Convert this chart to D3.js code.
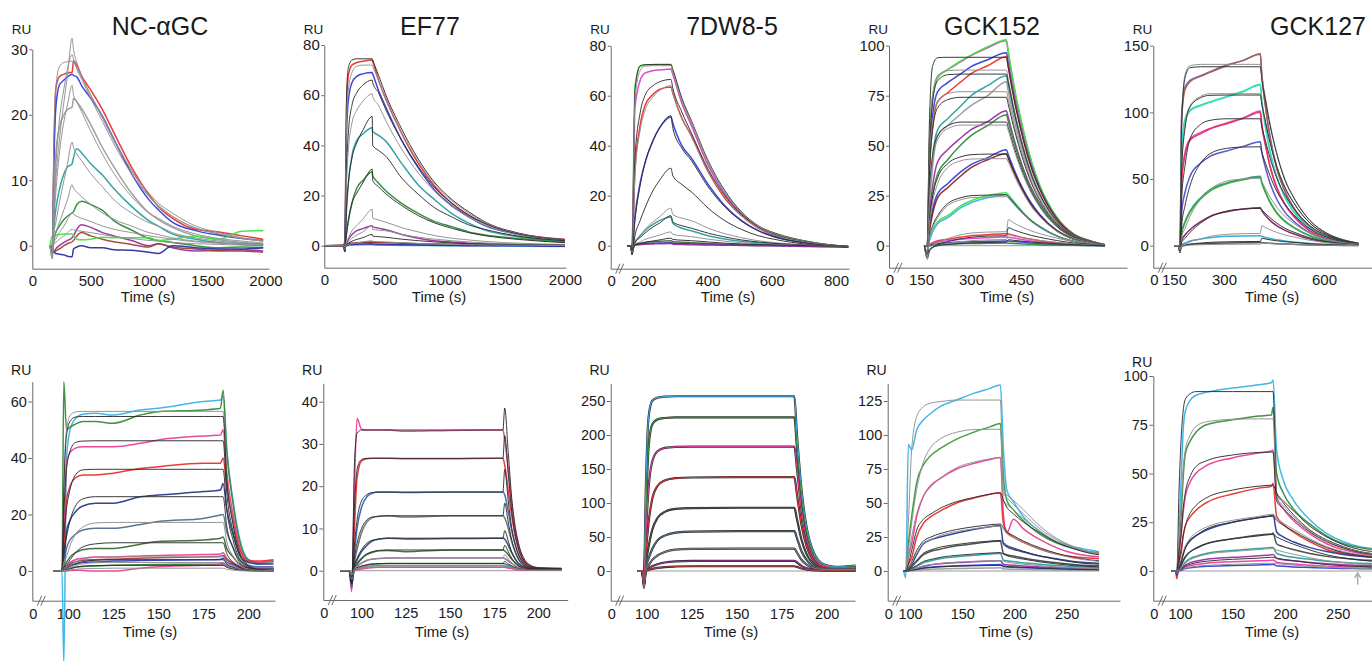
<!DOCTYPE html>
<html><head><meta charset="utf-8">
<script src="https://cdn.jsdelivr.net/npm/d3@7"></script>
<style>
body{margin:0;background:#fff}
svg{display:block}
text{font-family:"Liberation Sans",Arial,sans-serif;fill:#1a1a1a}
</style></head>
<body><svg id="c" width="1372" height="661"></svg>
<script>
// ===== DATA (RU values) =====
// Panel 1: NC-αGC (top)
const p1Times=[150,170,185,200,230,270,300,340,352,380,420,500,600,700,850,1000,1080,1200,1400,1600,1800,1980];
const p1Data=[
[0,0,15,24,25.8,26.2,26.4,26.5,28.2,27.6,26,23.8,20.8,17.2,12,7.8,6,4.2,2.5,2.1,1.5,1],
[0,-0.5,14,21,24.5,25.3,25.8,26.2,26,25.8,24.5,22.5,19.8,16.2,11,7,5.5,3.6,2.3,1.6,1.1,0.8],
[0,-1,8,14,18,20,20.8,21.2,22.5,22,21,18.5,15,12,8,5,4,2.8,1.5,0.9,0.5,0.3],
[0,0,3,5.5,8.5,11,12,12.5,13.5,14.8,14.2,12.5,10.8,8.7,6,3.8,3,1.8,1,0.5,0.2,0],
[0,0,1,2,3,4,4.5,5,5.2,6.3,6.8,6.3,5.4,3.8,2.4,1.1,0.8,0.5,0,-0.3,-0.2,-0.3],
[0,0,-1,-0.5,0,0.5,0.8,1.2,1.5,2.5,3.2,2.8,2,1.5,0.8,0,0.3,-0.3,-0.8,-0.7,-0.6,-0.8],
[0,0,-1,-0.8,-0.5,0,0.3,0.6,0.8,1.5,2,1.5,1,0.6,0.2,-0.2,0.3,-0.2,-0.5,-0.8,-0.8,-1],
[0,1.5,1.5,1.6,1.7,1.8,1.8,1.8,1.5,1.0,0.9,1.0,1.3,1.2,1.2,1.2,0.8,1.0,1.5,1.0,2.2,2.3],
[0,-1,-1,-1.2,-1.3,-1.4,-1.6,-1.7,-0.5,-0.2,0,-0.3,-0.3,-0.6,-0.7,-1,-1.2,0,-0.3,-0.5,-0.5,-0.3]];
const p1Fits=[
[0,0,5,10,16,22,26,31.7,30,28,26,23,19.5,16,11.5,8,6.5,5,3,2,1.2,0.8],
[0,0,6,12,19,24,27,29.2,28.5,27,25.5,22.5,19,15.5,11,7.5,6,4.5,2.7,1.8,1.1,0.7],
[0,0,18,24,27.3,28,28.1,28.2,28,27.2,25.8,23,19.8,16.3,11.5,7.6,6.2,4.5,2.7,1.8,1.1,0.7],
[0,-2,4,8,14,19,21.5,24.5,23,22,20.5,17.5,14,11,7.5,5,4.2,3,1.8,1.1,0.7,0.4],
[0,-2,2,3.5,6.5,10,12.5,15.8,15,14,13,11,9,7,5,3.5,3,2,1.2,0.7,0.4,0.3],
[0,-1.5,1,2,3.5,5.5,7,9.3,8.8,8.2,7.5,6.3,5,4,3,2,1.7,1.2,0.7,0.4,0.3,0.2],
[0,-1,0.5,1,2,3,4,5,4.8,4.5,4.2,3.7,3,2.5,2,1.5,1.3,1,0.6,0.4,0.3,0.2],
[0,-0.5,0.3,0.5,1,1.5,2,2.5,2.4,2.3,2.2,2,1.7,1.4,1.1,0.8,0.7,0.5,0.3,0.2,0.1,0.1]];
const p1XTicks=[0,500,1000,1500,2000], p1YTicks=[0,10,20,30];

// Panel 2: EF77 (top)
const p2Times=[0,160,170,185,200,230,270,320,398,402,450,504,643,781,920,1058,1200,1335,1612,2000];
const p2Data=[
[0,0,2,55,68,72,73,73.5,74,73.5,66,59.4,44.8,32.8,23.5,16.9,12,8.9,4.9,2.5],
[0,0,1,45,58,65,67.5,68.5,69,68.5,62,56,42,31,22,16,11.5,8,4.5,2],
[0,0,0.5,15,25,36,42,44.5,47,45.5,44,42,32.8,24.2,18.2,12.9,9,6.2,3.6,1.6],
[0,0,0.3,5,10,17,23,26,29.5,28,25,22.2,16.9,12.9,9.6,7.6,5.5,4.3,2.9,1.5],
[0,0,0,1,2.5,4.5,6,6.8,8,7.5,7,6.5,4.5,3,2,1.5,1,0.8,0.5,0.3],
[0,0.3,0,0.5,0.8,1,1.2,1.3,1.5,1.4,1.3,1.2,1,0.8,0.7,0.6,0.5,0.4,0.3,0.3],
[0,0,-0.3,0,0.2,0.3,0.3,0.3,0.4,0.3,0.2,0.2,0.1,0.1,0,0,0,0,-0.2,-0.3],
[0,-0.3,-0.5,0,0.3,0.5,0.6,0.7,0.8,0.7,0.6,0.5,0.4,0.3,0.2,0.1,0,0,0,-0.2]];
const p2Fits=[
[0,0,-2,60,71,74,74.5,74.5,74.5,74,68,61,46.5,34.5,25,18.5,13.5,9.5,5,2.5],
[0,0,-2,50,62,69,71.5,72,72,71.5,66,59,45,33.5,24.5,18,13,9.2,4.8,2.4],
[0,0,-2.5,30,45,56,61,64,66,65,61,55,42,31.5,23,17,12.3,8.8,4.6,2.3],
[0,0,-2.5,25,38,49,54,57.5,60.5,59.5,56,50.5,38.5,29,21.5,15.8,11.5,8.2,4.3,2.1],
[0,0,-2.5,15,25,35,41,46,51.5,40,38,36,27,20.5,15,11.5,8.3,6.5,3.8,2],
[0,0,-2,5,10,17,21,25,30.5,26,23.5,21,16,12,9,7,5.2,4,2.5,1.2],
[0,0,-1.5,1.5,3,6,8,10.5,14.5,11,10.3,9.5,7.2,5.5,4,3,2.3,1.7,1,0.5],
[0,0,-1,1,1.5,3,4.2,5.5,8,6.5,6.2,6,4.5,3.4,2.6,2,1.5,1.1,0.6,0.3],
[0,0,-1,0.5,1,1.8,2.5,3.2,4.5,3.8,3.6,3.4,2.6,2,1.5,1.1,0.8,0.6,0.4,0.2],
[0,0,-0.5,0.2,0.4,0.8,1.1,1.5,2,1.7,1.6,1.5,1.2,0.9,0.7,0.5,0.4,0.3,0.2,0.1]];
const p2XTicks=[0,500,1000,1500,2000], p2YTicks=[0,20,40,60,80];

// Panel 3: 7DW8-5 (top)
const p3Times=[150,160,165,174,190,205,230,250,286,292,320,350,402,454,506,558,610,713,838];
const p3Data=[
[0,0,0,63.6,71.6,72.3,72.4,72.5,72.5,70,58.5,49,33,21,13,7.6,5,1.6,-0.4],
[0,0,0,55,66,69,70,70.3,70.7,68.5,57,48,32,20.5,12.5,7.5,4.5,1.5,-0.5],
[0,0,0,30,48,56,60.5,62.5,63.5,61,51,44,29.5,19,12,7,4,1.2,-0.5],
[0,0,0,12,25,33,42,47,51.5,49,40,35,24.5,16,10,6,3.5,1,-0.5],
[0,0,0,1.5,4,6,8.5,10,11.5,9,7,6,4,2.7,1.8,1.2,0.8,0.3,-0.3],
[0,0,0,0.5,1,1.3,1.6,1.8,2,1.6,1.4,1.2,0.9,0.6,0.4,0.3,0.2,0,-0.3],
[0,0,-0.5,0.3,0.6,0.8,1,1.1,1.2,1,0.8,0.7,0.5,0.3,0.2,0.1,0,-0.2,-0.4],
[0,0,0,0.2,0.4,0.6,0.7,0.8,0.9,0.6,0.5,0.4,0.3,0.2,0.1,0,0,-0.3,-0.6]];
const p3Fits=[
[0,0,-3,62,72,72.4,72.5,72.5,72.5,70.5,59,50,34,22,13.5,8,5,1.7,-0.3],
[0,0,-3,58,70,71.8,72,72,72,69.5,58,49.5,33.5,21.5,13,7.8,4.8,1.6,-0.3],
[0,0,-3.5,35,53,60,64,65.5,66.5,63,53.5,45,30.5,20,12.5,7.4,4.4,1.4,-0.4],
[0,0,-3.5,28,46,54,59.5,62,64,61,51.5,43.5,29.5,19.5,12,7.2,4.2,1.3,-0.4],
[0,0,-3.5,10,24,33,42,47,52,47,39,34,23.5,15.5,9.8,6,3.5,1,-0.5],
[0,0,-3.5,4,10,15,22,26,31,28,24.5,21.5,15,10,6.5,4,2.5,0.5,-0.5],
[0,0,-3,1.5,4,6.5,9.5,11.5,15,12.5,11,10,7,4.8,3.2,2,1.2,0.3,-0.4],
[0,0,-3,1.2,3.3,5,7.5,9,12,9.5,8,7,5,3.5,2.3,1.5,0.9,0.2,-0.3],
[0,0,-2.5,0.6,1.5,2.5,3.5,4.2,5.5,4.5,4,3.6,2.6,1.8,1.2,0.8,0.5,0.1,-0.3],
[0,0,-2,0.3,0.8,1.3,1.9,2.3,3,2.5,2.2,2,1.5,1,0.7,0.5,0.3,0,-0.2]];
const p3XTicks=[200,400,600,800], p3YTicks=[0,20,40,60,80];

// Panel 4: GCK152 (top)
const p4Times=[160,169,175,185,200,230,270,300,350,406,412,427,457,482,507,557,607,657,702];
const p4Data=[
[0,0,48,74,84,88,92,95,99,102.5,96,81,57,41.5,29.5,14,5.8,2.3,0.3],
[0,0,50,75,84.5,88,92.5,95.3,99.5,103,97,82,58,42,30,14.5,6,2.5,0.5],
[0,0,40,65,77,81.5,86,89.5,93,96.5,91,77,54,39.5,28.5,13.8,5.8,2.4,0.5],
[0,0,35,60,72,76.5,82,86,90,94.5,89,75.5,53,38.5,28,13.5,5.7,2.4,0.5],
[0,0,25,45,58,63.5,70,75,80,85,80,68,48,35,25.5,12.5,5.3,2.2,0.4],
[0,0,20,40,55,60,66,70,75,82,77,65,46,34,25,12,5,2,0.4],
[0,0,15,30,42,48,54,58,62,67.5,64,54.5,38.5,28.5,21,10.2,4.4,1.8,0.3],
[0,0,10,25,36,43,50.5,55,60,65.5,62,53,37.5,27.5,20.5,10,4.3,1.8,0.3],
[0,0,8,18,26,31,37,40.5,44,48,45.5,39,28,21,15.5,7.7,3.4,1.5,0.3],
[0,0,7,16,24,29,35,39,43,46,43.5,37.5,27,20,15,7.5,3.3,1.4,0.3],
[0,0,3,8,12,15,20,22.5,25,26.5,25.5,22.5,16.5,12.5,9.5,5,2.3,1,0.2],
[0,0,2.5,7,11,14,19,21.5,24,25.5,24.5,21.5,16,12,9.2,4.8,2.2,1,0.2],
[0,0,0.5,1.5,2.5,3.2,4.3,5,5.5,6,5.8,5.2,4,3.2,2.5,1.5,0.8,0.4,0.1],
[0,0,0.3,1,1.8,2.5,3.2,3.6,4,4.3,4.2,3.8,3,2.4,1.9,1.1,0.6,0.3,0],
[0,0,0,0.5,1,1.4,1.8,2,2.2,2.4,2.3,2.1,1.7,1.3,1,0.6,0.3,0.1,0],
[0,0,0,0.3,0.5,0.8,1,1.1,1.2,1.3,1.25,1.1,0.9,0.7,0.5,0.3,0.2,0.1,0]];
const p4Fits=[
[0,0,60,90,94,94.2,94.2,94.2,94.2,94.2,89,75,53,38.5,28,13.5,5.5,2.3,0.4],
[0,0,45,75,85,87.5,87.8,87.8,87.8,87.8,83,70.5,49.5,36,26,12.7,5.2,2.1,0.4],
[0,0,42,72,82.5,85.5,85.8,85.8,85.8,85.8,81.5,69,48.5,35,25.5,12.4,5.1,2.1,0.4],
[0,0,40,62,72,76,77,77,77,77,73,62,44,32,23.5,11.5,4.8,2,0.4],
[0,0,35,58,69,73,74.2,74.2,74.2,74.2,70.5,60,42.5,31,22.5,11,4.6,1.9,0.4],
[0,0,25,45,55,60,61.8,61.8,61.8,61.8,59,50.5,36,26.5,19.5,9.6,4.1,1.7,0.3],
[0,0,22,42,53,58.5,60.3,60.3,60.3,60.3,57.5,49,35,26,19,9.4,4,1.7,0.3],
[0,-3,12,25,34,41,44.5,45.5,45.8,45.8,44,38,27.5,20.5,15.2,7.6,3.3,1.4,0.3],
[0,-3,10,22,31,39,42.5,43.3,43.5,43.5,41.8,36,26.2,19.5,14.5,7.3,3.2,1.3,0.3],
[0,-5,4,10,15,21,24,25,25.3,25.5,24.6,21.8,16.2,12.4,9.5,4.9,2.2,1,0.2],
[0,-5,3.5,9,14,20,23,24,24.3,24.5,23.7,21,15.8,12,9.2,4.8,2.2,1,0.2],
[0,-7,-3,0,1.5,3.5,5.5,6.3,6.8,7,13,11.5,9,7.3,6,3.8,2,1,0.2],
[0,-6,-3,-1,0.5,2,3.5,4.2,4.8,5,9,8,6.3,5.1,4.2,2.6,1.4,0.7,0.1],
[0,-5,-2.5,-1,0,1,2,2.5,2.9,3.1,5.5,4.9,3.9,3.2,2.6,1.7,0.9,0.4,0.1],
[0,-4,-2,-0.8,0,0.6,1.1,1.4,1.6,1.8,3,2.7,2.2,1.8,1.5,1,0.5,0.2,0]];
const p4XTicks=[150,300,450,600], p4YTicks=[0,25,50,75,100];

// Panel 5: GCK127 (top)
const p5Times=[150,163,168,173,183,198,230,258,308,358,409,413,425,438,458,483,508,558,608,658,703];
const p5Data=[
[0,0,-2,99,119,124,127.5,130.5,135.5,139,144,130,104,82,59,41,29,14,7,3,1.5],
[0,0,-2,95,117,123,127,130,135,139,143.5,129,103,81,58,40.5,28.5,13.8,6.8,2.9,1.4],
[0,0,-1,75,95,102,105.5,108,112,116,121,110,89,71,52,36.5,26,12.8,6.3,2.7,1.3],
[0,0,-1,72,94,101,105,107.5,111.5,115.5,120.5,109,88,70.5,51.5,36,25.8,12.7,6.2,2.7,1.3],
[0,0,-1,50,70,80,85,88,92,96,101,92,75,60,44,31,22.5,11.2,5.5,2.4,1.1],
[0,0,-1,48,68,79,84,87.5,91.5,95.5,100,91,74.5,59.5,43.5,30.8,22.3,11,5.4,2.3,1],
[0,0,-1,25,40,52,62,67,71,74.5,78,71,58,47,35,25,18.5,9.5,4.8,2.1,0.9],
[0,0,-1,10,18,26,36,42,47,50,52,48,40,33,25,18.5,14,7.5,3.8,1.7,0.8],
[0,0,-1,9,17,25,35,41,46.5,49.5,51.5,47.5,39.5,32.5,24.5,18,13.8,7.3,3.7,1.6,0.7],
[0,0,-1,4,8,12,18,22,25.5,27.5,28.5,26.5,22.5,19,15,11.5,9,5,2.7,1.2,0.5],
[0,0,-1,1,2,3.5,5,6,7,7.3,7.5,7,6.2,5.4,4.4,3.5,2.8,1.7,1,0.5,0.2],
[0,0,-1,0.3,0.6,1,1.4,1.7,2,2.2,2.4,2.3,2,1.8,1.5,1.2,1,0.6,0.4,0.2,0.1]];
const p5Fits=[
[0,0,-5,95,128,135,136,136,136,136,136,128,110,92,70,50,37,19,9.5,4.5,2],
[0,0,-5,92,126,133.5,134.2,134.2,134.2,134.2,134.2,126,108,90.5,69,49,36.5,18.8,9.4,4.4,2],
[0,0,-5,60,90,105,112,114,114,114,114,108,93,78,60,44,33,17,8.6,4,1.8],
[0,0,-5,57,88,104,111,112.8,113,113,113,107,92,77.5,59.5,43.5,32.5,16.8,8.5,4,1.8],
[0,0,-5,35,60,80,91,94,95.2,95.2,95.2,90,78,66,51,38,28.5,15,7.7,3.6,1.6],
[0,0,-5,15,30,45,62,69,73,74,74.2,70.5,61.5,52.5,41,31,23.5,12.5,6.5,3,1.4],
[0,0,-5,6,13,22,35,42,48.5,50,50.5,48.5,42.5,36.5,29,22,17,9.3,4.9,2.3,1.1],
[0,0,-5,2.5,5.5,10,17,21.5,26,27.5,28,27,24,21,17,13,10.3,5.8,3.1,1.5,0.7],
[0,0,-5,0,1,3,5,7,8.5,9,9.2,15,13.5,12,10,8,6.6,4,2.2,1.1,0.5],
[0,0,-4,-1,0,1,2,2.5,2.9,3.1,3.2,5.5,5,4.4,3.7,3,2.5,1.5,0.8,0.4,0.2],
[0,0,-3,-0.5,0,0.4,0.7,0.9,1,1.1,1.2,2,1.8,1.6,1.4,1.1,0.9,0.6,0.3,0.2,0.1]];
const p5XTicks=[150,300,450,600], p5YTicks=[0,50,100,150];

// Panel 6: NC-αGC (bottom)
const p6Times=[92,96.5,97.5,99,101,104,108,115,125,140,150,175,184.5,186,188,191.5,195,200,206,214];
const p6Data=[
[0,0,-33,40,50,54,55.5,55.8,55.2,57,57.6,60,60.5,62,43,25,12,4,2.5,3],
[0,0,67,50,51,52,52.9,52.9,52.3,55.2,56.4,57,57.6,64,43,24,11,4,3,3.5],
[0,0,10,38,42,43.5,44,44,44,45.2,46.4,47.8,48.1,50,35,20,9,3.5,3,3.5],
[0,0,5,25,30,33,34,34,34.6,36.3,36.9,38.1,38.1,40,30,18,8,3.5,3.5,4],
[0,0,3,14,18,21,23,24,24,26.3,26.9,28.1,28.7,31,22,13,6,3,2.5,2.5],
[0,0,2,8,11,13,14.5,15.1,15.1,16.5,17.5,18.6,19.8,20,14,8.5,4,2,1.5,1.5],
[0,0,1,3,5,6.5,7.5,8,8,9.5,10.4,11,11.6,12,8,5,2.5,1.2,1,1],
[0,0,0.5,1.5,3,4,4.5,5,5,5.3,5.5,5.8,6,6.5,4.5,3,1.8,1.2,1,1],
[0,0,0.5,1.2,2.5,3.2,3.8,4,4.2,4.5,4.7,5,5.2,5.5,4,2.7,1.6,1,0.8,0.8],
[0,0,0.3,1,2,2.5,3,3.2,3.5,3.7,3.8,4,4.1,4.5,3.2,2.2,1.3,0.8,0.6,0.6],
[0,0,0.2,0.5,1,1.3,1.6,1.8,2,2.2,2.3,2.4,2.5,2.8,2,1.4,0.9,0.5,0.4,0.4],
[0,0,0,0,0.2,0.3,0.2,0,0,1,1.5,2,2.1,2.2,1.6,1.1,0.7,0.4,0.3,0.3]];
const p6Fits=[
[0,0,30,50,55,56.3,56.5,56.5,56.5,56.5,56.5,56.5,56.5,56.5,34,17,7,2,0.6,0.2],
[0,0,28,48,53,54.5,54.7,54.7,54.7,54.7,54.7,54.7,54.7,54.7,33,16.5,6.8,2,0.6,0.2],
[0,0,20,36,42.5,45.5,46,46.1,46.1,46.1,46.1,46.1,46.1,46.1,28,14,5.8,1.7,0.5,0.2],
[0,0,12,22,29,34,35.8,36,36,36,36,36,36,36,22,11,4.5,1.3,0.4,0.1],
[0,0,7,12,18,23,25.5,26.3,26.3,26.3,26.3,26.3,26.3,26.3,16,8,3.3,1,0.3,0.1],
[0,0,3,5,9,13,15.5,17,17.2,17.2,17.2,17.2,17.2,17.2,10.5,5.3,2.2,0.7,0.2,0.1],
[0,0,1.5,2,4,6.5,8.5,9.6,10,10,10,10,10,10,6.2,3.1,1.3,0.4,0.1,0],
[0,0,0.8,1,2,3.2,4.2,4.8,5,5,5,5,5,5,3.1,1.6,0.7,0.2,0.1,0],
[0,0,0.5,0.8,1.6,2.5,3.3,3.8,4,4,4,4,4,4,2.5,1.3,0.5,0.2,0,0],
[0,0,0.3,0.6,1.2,1.9,2.5,2.9,3,3,3,3,3,3,1.9,1,0.4,0.1,0,0],
[0,0,0.2,0.4,0.8,1.3,1.7,1.9,2,2,2,2,2,2,1.3,0.7,0.3,0.1,0,0],
[0,0,0.1,0.2,0.4,0.6,0.8,0.9,1,1,1,1,1,1,0.6,0.3,0.1,0,0,0]];
const p6XTicks=[100,125,150,175,200], p6YTicks=[0,20,40,60];

// Panel 7: EF77 (bottom)
const p7Times=[88,93,94.5,96,97.5,100,103,106,110,115,125,150,175,180,181,183,185,187,189,192,196,200,213];
const p7Data=[
[0,0,-5,20,36,33.5,33.3,33.3,33.3,33.3,33,33.2,33.3,33.3,31,24,16,10,6,2.5,1,0.7,0.5],
[0,0,-4,10,22,26,26.5,26.6,26.6,26.6,26.5,26.5,26.6,26.6,25,19,13,8,4.8,2,0.8,0.6,0.5],
[0,0,-4,4,10,15,17.5,18.3,18.6,18.6,18.5,18.6,18.6,18.6,18,14,9.5,6,3.5,1.5,0.6,0.5,0.5],
[0,0,-3,2,5,9,11.5,12.5,12.9,13,12.7,13,13,13,12.5,10,6.8,4.3,2.5,1.1,0.5,0.4,0.4],
[0,0,-3,1,2.5,4.5,6,7,7.5,7.7,7.5,7.6,7.7,7.7,7.5,6,4.2,2.7,1.6,0.8,0.4,0.3,0.3],
[0,0,-2,0.5,1.5,2.8,3.8,4.3,4.7,4.8,4.5,4.9,4.9,4.9,4.7,3.8,2.7,1.8,1.1,0.5,0.3,0.3,0.3],
[0,0,-2,0.3,1,1.8,2.4,2.7,2.9,3,3,3,3,3,2.9,2.3,1.7,1.1,0.7,0.4,0.2,0.2,0.2],
[0,0,-1.5,0.2,0.6,1,1.3,1.5,1.6,1.7,1.7,1.7,1.7,1.7,1.6,1.3,1,0.7,0.5,0.3,0.2,0.2,0.2],
[0,0,-1,0.1,0.4,0.7,0.9,1.1,1.2,1.2,1.2,1.2,1.2,1.2,1.1,0.9,0.7,0.5,0.3,0.2,0.1,0.1,0.1],
[0,0,-0.5,0,0.2,0.4,0.6,0.7,0.8,0.8,0.8,0.8,0.8,0.8,0.8,0.6,0.5,0.3,0.2,0.1,0.1,0.1,0.1]];
const p7Fits=[
[0,0,-3,25,32.5,33.3,33.3,33.3,33.3,33.3,33.3,33.3,33.3,33.3,38.5,28,17,10,6,2.8,1.2,0.7,0.5],
[0,0,-3,15,24,26.3,26.6,26.6,26.6,26.6,26.6,26.6,26.6,26.6,32,23,14,8.5,5,2.3,1,0.6,0.5],
[0,0,-3,6,12,16.5,18,18.5,18.6,18.6,18.6,18.6,18.6,18.6,24,16.5,10,6.2,3.7,1.7,0.7,0.5,0.4],
[0,0,-3,3,6.5,10,12,12.7,12.9,13,13,13,13,13,16,11.5,7.2,4.5,2.7,1.2,0.5,0.4,0.4],
[0,0,-2.5,1.5,3,5,6.5,7.2,7.5,7.7,7.7,7.7,7.7,7.7,9.5,7,4.4,2.8,1.7,0.8,0.4,0.3,0.3],
[0,0,-2,0.8,1.8,3,4,4.5,4.8,4.9,4.9,4.9,4.9,4.9,6,4.5,2.9,1.9,1.1,0.5,0.3,0.3,0.3],
[0,0,-2,0.5,1.1,1.9,2.5,2.8,2.9,3,3,3,3,3,3.8,2.8,1.8,1.2,0.7,0.4,0.2,0.2,0.2],
[0,0,-1.5,0.3,0.7,1.1,1.4,1.6,1.7,1.7,1.7,1.7,1.7,1.7,2.2,1.6,1.1,0.7,0.5,0.3,0.2,0.2,0.2],
[0,0,-1,0.2,0.5,0.8,1,1.1,1.2,1.2,1.2,1.2,1.2,1.2,1.5,1.1,0.8,0.5,0.4,0.2,0.1,0.1,0.1]];
const p7XTicks=[100,125,150,175,200], p7YTicks=[0,10,20,30,40];

// Panel 8: 7DW8-5 (bottom)
const p8Times=[95,97.5,98.5,99.5,101,103,106,110,116,125,150,182,183.5,186,189,192,195,199,205,216];
const p8Data=[
[0,0,-10,120,225,250,255,256.5,257,257,257,257,200,120,62,32,17,9,6,8],
[0,0,-12,80,180,215,223,225,226,226,226,226,180,110,56,29,15,8,5,6],
[0,0,-15,50,120,160,176,181,182.5,183,183,183,150,90,46,24,13,7,5,5],
[0,0,-18,25,70,105,125,133,136.5,137.5,138,138,112,68,35,18,10,6,4.5,4.5],
[0,0,-20,10,35,60,78,87,91.5,92.5,93,93,76,46,24,12.5,7,4.5,3.5,3.5],
[0,0,-22,5,18,32,45,52,56.5,58,58.5,58.5,48,29,15.5,8,4.8,3,2.5,2.5],
[0,0,-25,2,8,16,23,28,31.5,32.5,33,33,27,16.5,9,5,3,2,1.8,1.8],
[0,0,-20,1,3.5,7,10,12.5,14.2,14.8,15,15,12.5,7.5,4,2.3,1.5,1,0.8,0.8],
[0,0,-15,0.5,1.5,3,4.6,5.8,6.6,7,7,7,6,3.6,2,1.2,0.8,0.6,0.5,0.5]];
const p8Fits=p8Data;
const p8XTicks=[100,125,150,175,200], p8YTicks=[0,50,100,150,200,250];

// Panel 9: GCK152 (bottom)
const p9Times=[94,96,98.4,101.6,106.4,112.8,120,128.7,144.7,160.7,176.6,186.5,189.4,192.6,199,208.6,224.5,240.5,256.5,272.4,281];
const p9Data=[
[0,-5,93,89,103.7,111,116,120.8,125.7,130.6,134.3,136.8,90,59.6,51,40,29,21.6,17.9,15.4,14],
[0,0,20,40,65,78,85,90,97,102,106,108.5,70,52,45,37,27,20.5,16.5,14,13.5],
[0,0,10,20,40,55,63,68,75,79,82,83.5,42,28,38,31,23,17,13,11,10.5],
[0,0,5,10,25,35,40,44,50,53.5,56.5,57.5,35,29,25,21,16,12.5,10.5,9.5,9],
[0,0,2,5,12,20,23,25,28,30.5,32.5,33.5,20,18,16,14,11,9,7,6,5.5],
[0,0,1,3,7,12,14.5,16,18.5,20,21.5,22,13,12,11,9.5,7.5,6,4.8,4,3.8],
[0,0,0.5,1.5,3.5,6,7.5,9,10.5,11.5,12.5,13,8,7.5,7,6,5,4,3.3,2.8,2.6],
[0,0,0.3,1,2,3.5,4.5,5.3,6.2,6.8,7.3,7.5,5,4.6,4.2,3.7,3,2.5,2,1.7,1.6],
[0,0,0.2,0.6,1.2,2.2,2.8,3.3,3.9,4.3,4.6,4.8,3.2,3,2.7,2.4,2,1.6,1.3,1.1,1],
[0,0,0.1,0.3,0.6,1,1.3,1.5,1.8,2,2.2,2.3,1.5,1.4,1.3,1.2,1,0.8,0.6,0.5,0.5]];
const p9Fits=[
[0,0,35,89,113.5,120.8,123.5,124.5,125.7,125.7,125.7,125.7,60,56,52,45,33,24,18,14.2,13],
[0,0,15,35,60,80,91,97,102,104,104.2,104.2,57,54,49,42,31,23,17.5,14,13],
[0,0,10,25,42,55,62,68,76,80,82.5,83.5,52,49,45,38.5,29,21.5,16.5,13.3,12.5],
[0,0,5,15,30,38,42,46,51,54,56.5,57.5,52,47,42,36,28,21,16.5,13,12],
[0,0,2,7,15,22,25,27.5,30.5,32.5,34,34.5,32,29,26,22,17,13,10,8.2,7.5],
[0,0,1.5,6,13,20,23,26,29,31,32.5,33,30.5,27.5,24.5,21,16,12.3,9.5,7.8,7],
[0,0,1,4,8,13,15.5,17.5,19.5,21,22,22.5,21,19,17,14.5,11,8.5,6.5,5.3,5],
[0,0,0.5,2,4,7,8.5,10,11.5,12.5,13.2,13.5,12.5,11.3,10,8.7,6.7,5.2,4,3.3,3],
[0,0,0.3,1,2.2,3.8,4.8,5.6,6.5,7.1,7.5,7.7,7.2,6.5,5.8,5,3.9,3,2.3,1.9,1.7],
[0,0,0.2,0.5,1.1,2,2.5,3,3.5,3.8,4,4.1,3.8,3.4,3.1,2.7,2.1,1.6,1.2,1,0.9]];
const p9XTicks=[100,150,200,250], p9YTicks=[0,25,50,75,100,125];

// Panel 10: GCK127 (bottom)
const p10Times=[92,95.9,97,99,101.3,103,105,110,115,125,150,175,187,188.5,191.9,198.2,207.7,223.6,239.4,255.3,271,282.5];
const p10Data=[
[0,0,-2,20,50,72,81.8,87.8,90,91.6,93.8,95.5,96.5,98,62,46.7,36.5,26.2,19.3,15,12.5,11.6],
[0,0,-2,10,30,48,60,67,71,75,77.5,79.5,80,84,50,40,32,24,18,14,12,11],
[0,0,-3,8,20,30,38,46,50,54,58,60.5,61.5,62,38,32,26,19,14,11,9,8],
[0,0,-4,4,10,18,23,28,31,35,39.5,42.5,43.5,45,28,24,20,15,11,9,8,7],
[0,0,-2,2,5,8.5,12,16,18,21,25,27.5,28.5,29,20,17.5,15,12,10,8.5,7.5,7],
[0,0,-1,1,3,5,7,10,11.5,14,16.5,18.5,19,19.5,14,12.5,11,9,7.5,6.5,5.8,5.5],
[0,0,-1,0.5,1.5,3,4.5,6.5,7.5,9,10.5,11.5,12,12,9,8,7,6,5,4.4,4,3.8],
[0,0,-1,0.3,1,2,3,4.3,5,6,7,7.8,8.3,8.5,6.5,5.8,5.2,4.4,3.7,3.2,2.9,2.7],
[0,0,-1,0.2,0.7,1.3,2,2.8,3.3,4,4.7,5.2,5.5,5.6,4.5,4,3.6,3,2.5,2.2,2,1.9],
[0,0,-0.5,0.1,0.4,0.8,1.2,1.7,2,2.4,2.8,3.1,3.3,3.4,2.7,2.4,2.1,1.8,1.5,1.3,1.2,1.1]];
const p10Fits=[
[0,0,0,40,70,82,88,91,92,92,92,92,92,92,40,35,29,21,16,12.5,10,9],
[0,0,0,20,35,52,62,70,74,76.5,77.8,78,78,78,38,33.5,28,20.5,15.5,12,9.8,8.8],
[0,0,0,10,20,32,40,49,53.5,56.5,59.5,60.8,61,61,36,32,27,20,15,11.8,9.5,8.5],
[0,0,0,5,12,18,23,30,33.5,37.5,41.5,43.5,44,44,40,36,31,23,17.5,13.5,11,10],
[0,0,0,2.5,6,9.5,12.5,17,19.5,22.5,26,28,29,29,27,24.5,21.5,16.5,12.5,10,8.3,7.5],
[0,0,0,2,5,8.5,11.5,15.5,18,21.5,25,27.2,28,28,26,23.5,20.5,15.8,12,9.5,7.9,7.2],
[0,0,0,1.2,3.2,5.5,7.5,10,11.8,14,16.5,18,18.7,18.7,17.5,15.8,13.8,10.8,8.3,6.7,5.6,5],
[0,0,0,0.7,1.8,3,4,5.8,7,8.5,10,11,11.5,11.5,10.8,9.8,8.6,6.8,5.3,4.3,3.6,3.3],
[0,0,0,0.4,1,1.8,2.5,3.5,4.2,5,6,6.6,7,7,6.6,6,5.3,4.2,3.3,2.7,2.3,2.1],
[0,0,0,0.2,0.5,1,1.4,2,2.4,2.9,3.4,3.8,4,4,3.8,3.4,3,2.4,1.9,1.6,1.3,1.2]];
const p10XTicks=[100,150,200,250], p10YTicks=[0,25,50,75,100];
const p10Arrow=[269,-7,-1]; // time, from RU, to RU

// ===== STYLE =====
const K='#2e2e2e', G='#8f8f8f';
const col={red:'#e8302c',blue:'#3040d8',teal:'#2a9e9e',green:'#2e8b3a',purple:'#9a30a0',brown:'#a0453a',
  lime:'#3ee63e',navy:'#2e2e9a',magenta:'#e040c8',cyan:'#3ab2e8',pink:'#e8409a',slate:'#50708f',
  dkgreen:'#3a6a3a',gray:'#9a9a9a',darkred:'#8b2222',dark:'#404848'};
const p1Colors=[col.red,col.blue,col.gray,col.teal,col.green,col.purple,col.brown,col.lime,col.navy];
const p1FitColors=[G,G,G,G,G,G,G,G];
const p2Colors=[col.red,col.blue,col.teal,col.green,col.purple,col.darkred,col.cyan,col.navy];
const p2FitColors=[K,G,K,G,K,K,G,G,K,G];
const p3Colors=[col.lime,col.magenta,col.red,col.blue,col.teal,col.dkgreen,col.navy,col.purple];
const p3FitColors=[K,G,K,G,K,K,G,K,G,K];
const p4Colors=[col.magenta,col.lime,col.blue,col.red,col.teal,col.gray,col.purple,col.green,col.blue,col.darkred,col.lime,col.cyan,col.red,col.magenta,col.blue,col.green];
const p4FitColors=[K,G,K,G,K,K,G,K,G,K,G,G,K,G,K];
const p5Colors=['#5a60e0','#b0604a','#44ee66','#30d8d8',col.magenta,'#e83060','#4a50d0','#2a9a8a','#3aaa3a','#802060','#30a8d8',col.dark];
const p5FitColors=[G,K,G,K,K,K,G,K,G,K,G];
const p6Colors=[col.cyan,'#3a8a3a',col.pink,col.red,'#283a8a',col.slate,col.dkgreen,col.pink,col.brown,col.blue,col.green,col.pink];
const p6FitColors=[G,K,K,K,K,G,K,G,K,G,K,G];
const p7Colors=[col.pink,col.red,'#3a60c0','#707070','#2a4a7a',col.dkgreen,'#a060a0',col.green,col.teal,col.pink];
const p7FitColors=[K,K,K,K,K,K,G,K,G];
const p8Colors=['#40b0f0','#3a9a3a','#e040a0','#e83030','#505050',col.slate,'#808080',col.purple,col.brown];
const p8FitColors=[K,K,K,K,K,K,K,K,K];
const p9Colors=[col.cyan,'#3a9a3a',col.pink,col.red,'#283a9a',col.dark,col.teal,col.purple,col.blue,col.gray];
const p9FitColors=[G,G,G,K,K,G,K,K,G,K];
const p10Colors=[col.cyan,'#3a8a3a',col.pink,col.red,'#283a9a',col.dark,col.teal,col.purple,col.pink,col.blue];
const p10FitColors=[K,G,K,K,G,K,K,G,K,G];

// ===== LAYOUT =====
const panels=[
 {title:'NC-αGC',tx:160,times:p1Times,data:p1Data,colors:p1Colors,fits:p1Fits,fitColors:p1FitColors,xa:[0,32.5,2000,265.5],axisX:32.3,xEnd:269,ya:[0,245.7,30,49.3],yBot:268.7,yTop:49.3,xt:p1XTicks,yt:p1YTicks,brk:false,row:0,lx:148,zero:false},
 {title:'EF77',tx:430,times:p2Times,data:p2Data,colors:p2Colors,fits:p2Fits,fitColors:p2FitColors,xa:[0,324.3,2000,565],axisX:324.3,xEnd:566,ya:[0,245.7,80,45],yBot:267.7,yTop:45,xt:p2XTicks,yt:p2YTicks,brk:false,row:0,lx:439,zero:false},
 {title:'7DW8-5',tx:732,times:p3Times,data:p3Data,colors:p3Colors,fits:p3Fits,fitColors:p3FitColors,xa:[200,643.3,800,836],axisX:610.7,xEnd:849,ya:[0,245.7,80,45.7],yBot:268.7,yTop:45.7,xt:p3XTicks,yt:p3YTicks,brk:true,row:0,lx:728,zero:false},
 {title:'GCK152',tx:992,times:p4Times,data:p4Data,colors:p4Colors,fits:p4Fits,fitColors:p4FitColors,xa:[300,971,600,1071],axisX:889,xEnd:1127,ya:[0,245.7,100,45.7],yBot:267.7,yTop:45.7,xt:p4XTicks,yt:p4YTicks,brk:true,row:0,lx:1007,zero:true},
 {title:'GCK127',tx:1318,times:p5Times,data:p5Data,colors:p5Colors,fits:p5Fits,fitColors:p5FitColors,xa:[300,1224,600,1324],axisX:1153.3,xEnd:1372,ya:[0,245.7,150,45.7],yBot:267.7,yTop:45.7,xt:p5XTicks,yt:p5YTicks,brk:true,row:0,lx:1272,zero:false},
 {title:null,times:p6Times,data:p6Data,colors:p6Colors,fits:p6Fits,fitColors:p6FitColors,xa:[100,68.3,200,248.3],axisX:32.3,xEnd:275,ya:[0,571,60,401.5],yBot:600.7,yTop:381.7,xt:p6XTicks,yt:p6YTicks,brk:true,row:1,lx:150,zero:false},
 {title:null,times:p7Times,data:p7Data,colors:p7Colors,fits:p7Fits,fitColors:p7FitColors,xa:[100,361.5,200,538.3],axisX:323.3,xEnd:567.7,ya:[0,570.7,40,401.7],yBot:600,yTop:383.3,xt:p7XTicks,yt:p7YTicks,brk:true,row:1,lx:442,zero:true},
 {title:null,times:p8Times,data:p8Data,colors:p8Colors,fits:p8Fits,fitColors:p8FitColors,xa:[150,736.7,200,826.7],axisX:610.7,xEnd:855,ya:[0,571,250,401],yBot:600.7,yTop:383.3,xt:p8XTicks,yt:p8YTicks,brk:true,row:1,lx:731,zero:true,dataOnTop:true},
 {title:null,times:p9Times,data:p9Data,colors:p9Colors,fits:p9Fits,fitColors:p9FitColors,xa:[100,910,250,1066.7],axisX:887.7,xEnd:1120,ya:[0,571,125,401],yBot:600.7,yTop:383.3,xt:p9XTicks,yt:p9YTicks,brk:true,row:1,lx:1006,zero:true},
 {title:null,times:p10Times,data:p10Data,colors:p10Colors,fits:p10Fits,fitColors:p10FitColors,xa:[100,1180,250,1337.7],axisX:1153.3,xEnd:1372,ya:[0,571,100,376],yBot:600.7,yTop:376,xt:p10XTicks,yt:p10YTicks,brk:true,row:1,lx:1272,zero:true,arrow:p10Arrow,ruY:367}
];

const svg=d3.select('#c');
const AX='#6a6a6a';

panels.forEach(p=>{
  const top=p.row===0;
  const fs=top?15:14.5;
  const sx0=d3.scaleLinear().domain([p.xa[0],p.xa[2]]).range([p.xa[1],p.xa[3]]);
  const sy0=d3.scaleLinear().domain([p.ya[0],p.ya[2]]).range([p.ya[1],p.ya[3]]);
  const x=d3.scaleLinear().domain([sx0.invert(p.axisX),sx0.invert(p.xEnd)]).range([p.axisX,p.xEnd]);
  const y=d3.scaleLinear().domain([sy0.invert(p.yBot),sy0.invert(p.yTop)]).range([p.yBot,p.yTop]);
  const g=svg.append('g');

  // axes
  const ya=g.append('g').attr('transform',`translate(${p.axisX},0)`)
    .call(d3.axisLeft(y).tickValues(p.yt).tickSize(top?3:4).tickSizeOuter(0).tickPadding(1.5).tickFormat(d3.format('d')));
  ya.select('.domain').attr('stroke',AX);
  ya.selectAll('.tick line').attr('stroke',AX);
  ya.selectAll('text').attr('font-size',fs).attr('font-family','"Liberation Sans",Arial,sans-serif').attr('fill','#1a1a1a');

  const xa=g.append('g').attr('transform',`translate(0,${p.yBot})`)
    .call(d3.axisBottom(x).tickValues(p.xt).tickSize(0).tickSizeOuter(0).tickPadding(top?6.5:7.7).tickFormat(d3.format('d')));
  xa.select('.domain').attr('stroke',AX);
  xa.selectAll('text').attr('font-size',fs).attr('font-family','"Liberation Sans",Arial,sans-serif').attr('fill','#1a1a1a');
  if(p.brk){
    g.append('text').attr('x',p.axisX+1).attr('y',p.yBot+(top?17:18)).attr('text-anchor','middle')
      .attr('font-size',fs).text('0');
    [0,1].forEach(i=>g.append('line')
      .attr('x1',p.axisX+5+3.5*i).attr('y1',p.yBot+5)
      .attr('x2',p.axisX+9.5+3.5*i).attr('y2',p.yBot-5)
      .attr('stroke',AX).attr('stroke-width',1));
  }

  // labels
  g.append('text').attr('x',p.axisX-1).attr('y',p.ruY||(top?34:375)).attr('text-anchor','end')
    .attr('font-size',top?13.5:14).text('RU');
  g.append('text').attr('x',p.lx).attr('y',top?302:637).attr('text-anchor','middle')
    .attr('font-size',15).text('Time (s)');
  if(p.title) g.append('text').attr('x',p.tx).attr('y',35).attr('text-anchor','middle')
    .attr('font-size',25).text(p.title);

  // zero baseline
  if(p.zero){
    const t0=p.times[0], t1=p.times[p.times.length-1];
    g.append('path').attr('d',d3.line()([[x(t0),y(0)],[x(t1),y(0)]]))
      .attr('stroke','#9a9a9a').attr('stroke-width',1).attr('fill','none');
  }

  const line=d3.line().x(d=>x(d[0])).y(d=>y(d[1])).curve(d3.curveMonotoneX);
  const pts=v=>p.times.map((t,i)=>[t,v[i]]);

  const drawData=()=>g.append('g').selectAll('path').data(p.data).join('path')
    .attr('d',v=>line(pts(v))).attr('fill','none')
    .attr('stroke',(v,i)=>p.colors[i%p.colors.length])
    .attr('stroke-width',p.dataOnTop?1.1:1.5).attr('stroke-linejoin','round').attr('opacity',0.95);
  const drawFits=()=>g.append('g').selectAll('path').data(p.fits).join('path')
    .attr('d',v=>line(pts(v))).attr('fill','none')
    .attr('stroke',(v,i)=>p.fitColors[i%p.fitColors.length])
    .attr('stroke-width',p.dataOnTop?2.2:0.95).attr('stroke-linejoin','round');
  if(p.dataOnTop){ drawFits(); drawData(); } else { drawData(); drawFits(); }

  if(p.arrow){
    const [t,a,b]=p.arrow;
    g.append('line').attr('x1',x(t)).attr('x2',x(t)).attr('y1',y(a)).attr('y2',y(b))
      .attr('stroke','#aaa').attr('stroke-width',1.5);
    g.append('path').attr('d',d3.line()([[x(t)-3,y(b)+5],[x(t),y(b)],[x(t)+3,y(b)+5]]))
      .attr('stroke','#aaa').attr('stroke-width',1.5).attr('fill','none');
  }
});
</script></body></html>
